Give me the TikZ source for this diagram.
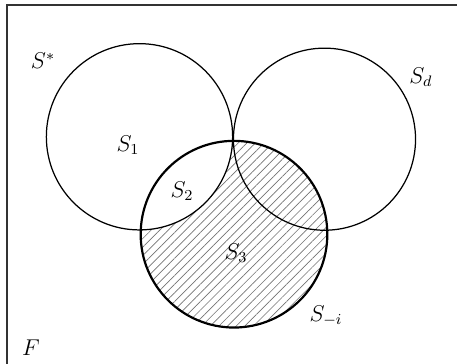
\documentclass[tikz,border=0pt]{standalone}
\usetikzlibrary{patterns.meta}
\begin{document}
\begin{tikzpicture}[x=0.525pt,y=-0.525pt,
  setcirc/.style={draw=black,line width=0.65pt},
  boldcirc/.style={draw=black,line width=1.15pt},
  lbl/.style={inner sep=0pt,anchor=center,font=\fontsize{11.5pt}{14pt}\selectfont}]
\clip (0,0) rectangle (457,364);
\draw[line width=0.9pt,black!80] (7,5) rectangle (480,390);
% hatched region: inside S_{-i}, outside S*
\begin{scope}
  \clip (234,234.2) circle[radius=49pt];
  \fill[pattern={Lines[angle=45,distance=3.2pt,line width=0.35pt]},pattern color=black!55,even odd rule]
    (0,0) rectangle (457,364) (139.5,136.8) circle[radius=48.9pt];
\end{scope}
\coordinate (cstar) at (139.5,136.8);
\coordinate (cd) at (324.5,139.2);
\coordinate (ci) at (234,234.2);
\draw[setcirc] (cstar) circle[radius=48.9pt];
\draw[setcirc] (cd) circle[radius=47.8pt];
\draw[boldcirc] (ci) circle[radius=49pt];
\node[lbl] (lstar) at (43,61) {$S^{*}$};
\node[lbl] (ld) at (421,77) {$S_d$};
\node[lbl] (l1) at (128,145) {$S_1$};
\node[lbl] (l2) at (182,191) {$S_2$};
\node[lbl] (l3) at (236,253) {$S_3$};
\node[lbl] (li) at (326,316) {$S_{-i}$};
\node[lbl] (lF) at (31,348) {$F$};
\end{tikzpicture}
\end{document}
